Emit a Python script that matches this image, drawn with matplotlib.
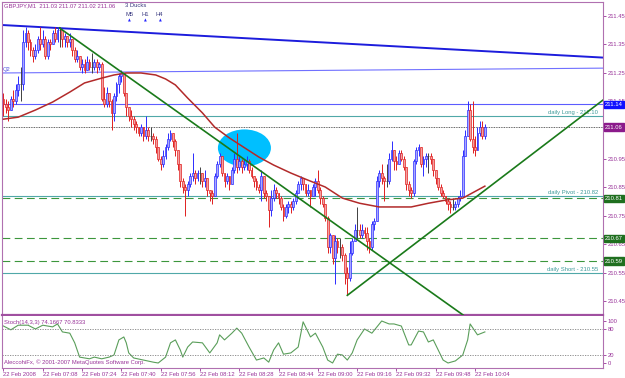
import numpy as np
import matplotlib.pyplot as plt
from matplotlib.patches import Ellipse
import matplotlib.transforms as mtransforms

plt.rcParams['font.family'] = ['Liberation Sans', 'DejaVu Sans']

# prices are kept in pips (0.01) above BASE
BASE = 210.00

first_open = 116
closes = [114, 113, 112, 116, 115, 119, 121, 121, 136, 139, 136, 133, 131, 133, 137, 135, 137, 131, 136, 135,
          139, 137, 140, 140, 137, 138, 136, 137, 133, 130, 131, 127, 128, 126, 129, 127, 127, 129, 127, 128,
          116, 114, 118, 115, 111, 117, 121, 124, 125, 118, 113, 110, 109, 107, 106, 104, 106, 103, 105, 103,
          103, 102, 99, 95, 93, 96, 99, 102, 104, 101, 98, 93, 87, 85, 84, 86, 89, 90, 88, 90,
          90, 87, 88, 84, 83, 82, 89, 93, 96, 90, 87, 89, 86, 91, 95, 92, 94, 92, 93, 94,
          91, 89, 87, 85, 84, 89, 83, 82, 77, 81, 84, 83, 81, 78, 75, 78, 79, 78, 80, 83,
          86, 88, 86, 83, 84, 82, 85, 87, 84, 81, 79, 74, 64, 68, 60, 66, 64, 64, 61, 55,
          53, 62, 66, 70, 70, 68, 70, 69, 66, 64, 72, 73, 87, 90, 88, 87, 87, 95, 98, 94,
          93, 97, 95, 92, 86, 84, 83, 94, 98, 99, 93, 95, 96, 96, 95, 91, 88, 85, 83, 82,
          80, 79, 78, 78, 79, 81, 82, 96, 103, 112, 102, 99, 98, 104, 106, 103, 106]
highs = [118, 116, 115, 117, 119, 121, 124, 127, 140, 141, 140, 137, 134, 135, 138, 141, 140, 138, 137, 137,
         140, 141, 141, 141, 139, 139, 138, 139, 136, 134, 133, 131, 130, 130, 131, 130, 132, 130, 130, 129,
         129, 120, 120, 118, 116, 118, 122, 125, 126, 125, 118, 113, 112, 110, 108, 106, 107, 106, 110, 106,
         106, 104, 103, 99, 96, 98, 100, 104, 105, 104, 102, 98, 93, 88, 86, 87, 90, 97, 91, 91,
         92, 90, 91, 86, 84, 84, 90, 94, 97, 95, 90, 90, 89, 92, 97, 104, 96, 95, 95, 96,
         95, 92, 89, 88, 86, 91, 88, 84, 82, 84, 86, 85, 83, 82, 79, 79, 80, 80, 81, 84,
         87, 89, 88, 86, 86, 84, 86, 88, 91, 85, 82, 79, 75, 69, 67, 68, 67, 67, 65, 62,
         57, 66, 67, 72, 78, 72, 72, 71, 71, 67, 73, 74, 89, 91, 93, 89, 93, 97, 101, 98,
         96, 98, 98, 96, 91, 87, 85, 95, 99, 100, 99, 96, 97, 97, 97, 95, 91, 88, 86, 84,
         82, 81, 80, 81, 80, 82, 84, 98, 105, 115, 114, 115, 103, 106, 108, 108, 107]
lows = [110, 111, 108, 112, 113, 114, 117, 115, 119, 134, 133, 131, 129, 130, 132, 133, 134, 130, 130, 133,
        135, 136, 136, 134, 134, 134, 134, 134, 131, 129, 129, 126, 125, 125, 126, 126, 125, 126, 125, 126,
        115, 113, 113, 113, 105, 108, 115, 118, 122, 117, 110, 108, 106, 105, 104, 103, 103, 101, 102, 101,
        101, 100, 97, 94, 91, 92, 95, 98, 101, 99, 96, 91, 85, 83, 75, 82, 85, 87, 86, 87,
        86, 85, 85, 82, 80, 79, 82, 88, 92, 89, 85, 86, 84, 86, 90, 90, 91, 90, 91, 91,
        90, 88, 85, 84, 83, 80, 81, 80, 71, 75, 80, 81, 79, 77, 73, 74, 76, 76, 77, 79,
        83, 84, 84, 82, 82, 78, 82, 82, 83, 79, 78, 73, 62, 62, 58, 51, 62, 60, 59, 51,
        47, 52, 61, 66, 67, 67, 67, 67, 63, 62, 63, 70, 73, 85, 86, 80, 85, 86, 94, 91,
        91, 93, 94, 91, 84, 82, 81, 82, 93, 96, 92, 89, 92, 90, 93, 89, 86, 84, 82, 81,
        79, 77, 76, 77, 77, 78, 80, 82, 96, 103, 101, 97, 96, 98, 103, 102, 102]

# 100-period moving average, read at a few bars (pips)
ma_bars = [0, 6, 13, 20, 27, 33, 40, 45, 50, 56, 62, 66, 70, 75, 81, 86, 92, 97, 104, 110, 117, 124,
           131, 138, 145, 153, 159, 166, 173, 180, 187, 193, 196]
ma_vals = [108.8, 109.5, 112, 114.8, 118.3, 121.5, 123.2, 124.3, 125, 125, 124.3, 122.9, 120.8, 116.2,
           111, 106, 102.2, 99.4, 95.5, 92.7, 89.9, 87.4, 85, 81.1, 79.3, 78, 78, 78, 79.3, 80.4, 81.1,
           83.9, 85.3]

# stochastic %K, read at a few bars
stoch_bars = [0, 3, 6, 10, 13, 16, 20, 22, 24, 27, 29, 31, 35, 37, 40, 43, 45, 47, 49, 50, 51, 53, 57,
              61, 63, 66, 68, 70, 72, 73, 75, 77, 81, 84, 87, 88, 90, 93, 95, 97, 100, 103, 106, 108,
              110, 112, 114, 117, 120, 122, 125, 127, 130, 132, 134, 136, 138, 140, 142, 144, 147, 150,
              154, 157, 159, 162, 165, 166, 169, 171, 173, 175, 177, 179, 181, 184, 187, 189, 190, 193, 196]
stoch_vals = [88, 79, 90, 90, 81, 90, 86, 93, 74, 71, 48, 14, 10, 14, 10, 14, 19, 55, 62, 48, 24, 12, 7,
              2, 0, 14, 48, 55, 31, 14, 38, 50, 48, 24, 48, 67, 55, 71, 83, 71, 38, 7, 12, 2,
              31, 48, 21, 24, 38, 98, 62, 71, 38, 7, 0, 21, 19, 7, 24, 55, 81, 71,
              100, 93, 93, 88, 43, 43, 76, 74, 50, 55, 31, 7, 0, 5, 19, 55, 93, 67, 74]

# chart objects (pips)
blue_channel = [(0, 141.8), (244.1, 130.4)]
q2_line = [(-0.6, 125.0), (244.1, 126.7)]
down_trend = [(22.8, 140.8), (187.3, 40.0)]
up_trend = [(140.0, 47.0), (244.1, 115.5)]
daily_levels = {'daily Long': 110, 'daily Pivot': 82, 'daily Short': 55}
dashed_levels = [81, 67, 59]
level_blue = 114
bid = 106

time_ticks = [0, 16, 32, 48, 64, 80, 96, 112, 128, 144, 160, 176, 192]
time_labels = ['22 Feb 2008', '22 Feb 07:08', '22 Feb 07:24', '22 Feb 07:40', '22 Feb 07:56',
               '22 Feb 08:12', '22 Feb 08:28', '22 Feb 08:44', '22 Feb 09:00', '22 Feb 09:16',
               '22 Feb 09:32', '22 Feb 09:48', '22 Feb 10:04']


def P(v):
    return BASE + np.asarray(v, dtype=float) / 100.0


W, H = 625, 378
PURPLE = '#993399'
FRAME = '#b070b0'


def rect(x0, y0, x1, y1):
    return [x0 / W, 1 - y1 / H, (x1 - x0) / W, (y1 - y0) / H]


fig = plt.figure(figsize=(W / 100, H / 100), dpi=100)
fig.patch.set_facecolor('white')
ax = fig.add_axes(rect(2, 2, 603, 315))
ax2 = fig.add_axes(rect(2, 316, 603, 368))

xmin, xmax = -0.6, 244.1
ax.set_xlim(xmin, xmax)
ax.set_ylim(P(40.1), P(149.9))

c = P(closes)
o = np.r_[P(first_open), c[:-1]]
h = np.maximum(P(highs), np.maximum(o, c))
l = np.minimum(P(lows), np.minimum(o, c))
x = np.arange(len(c))

# highlight ellipse
ax.add_patch(Ellipse((98.1, P(98.7)), 21.6, 0.13, color='#00bfff', zorder=1.5, lw=0))

# horizontal levels
for name, v in daily_levels.items():
    ax.axhline(P(v), color='#50a8a8', lw=0.8, zorder=2)
    ax.text(0.992, P(v) + 0.003, f'{name} - {P(v):.2f}', transform=mtransforms.blended_transform_factory(ax.transAxes, ax.transData),
            ha='right', va='bottom', fontsize=4.2, color='#3d9a9a')
for v in dashed_levels:
    ax.axhline(P(v), color='#3c963c', lw=0.8, ls=(0, (7, 4)), zorder=2)
ax.axhline(P(level_blue), color='#5c5cff', lw=0.8, zorder=2)
ax.axhline(P(bid), color='#303030', lw=0.6, ls=(0, (1, 1)), zorder=2)
ax.plot([p[0] for p in q2_line], P([p[1] for p in q2_line]), color='#7070ff', lw=0.8, zorder=2)
ax.text(0.002, P(125.4), 'Q2', transform=mtransforms.blended_transform_factory(ax.transAxes, ax.transData),
        ha='left', va='bottom', fontsize=4.2, color='#5050e0')
ax.plot([p[0] for p in blue_channel], P([p[1] for p in blue_channel]), color='#1c1cdc', lw=1.4, zorder=2)

# moving average and trend lines
ax.plot(ma_bars, P(ma_vals), color='#b22a2a', lw=1.1, zorder=4)
ax.plot([p[0] for p in down_trend], P([p[1] for p in down_trend]), color='#1a7a1a', lw=1.2, zorder=4)
ax.plot([p[0] for p in up_trend], P([p[1] for p in up_trend]), color='#1a7a1a', lw=1.2, zorder=4)

# candles
up = c > o
dn = c < o
dj = c == o
edge = np.where(up, '#2b2bff', np.where(dn, '#e02020', '#404040'))
fill = np.where(up, '#a8a8ff', np.where(dn, '#f4a0a0', '#404040'))
ax.vlines(x, l, h, colors=edge, lw=0.7, zorder=3)
body = np.maximum(np.abs(c - o), 0.0004)
ax.bar(x, body, bottom=np.minimum(o, c), width=0.75, color=fill, edgecolor=edge, lw=0.5, zorder=3.2)

# price axis
ax.yaxis.tick_right()
yt = np.arange(45, 150, 10)
ax.set_yticks(P(yt))
ax.set_yticklabels([f'{v:.2f}' for v in P(yt)])
ax.tick_params(axis='y', colors=PURPLE, labelsize=4.2, length=2, width=0.6, pad=1.5)
ax.set_xticks([])
for s in ax.spines.values():
    s.set_color(FRAME)
    s.set_linewidth(0.8)
ax.spines['bottom'].set_linewidth(1.6)
ax.spines['bottom'].set_color('#a050a0')

tr = mtransforms.blended_transform_factory(ax.transAxes, ax.transData)
boxes = [(level_blue, '#1010ff'), (bid, '#8b1a8b'), (81, '#1f6f1f'), (67, '#1f6f1f'), (59, '#1f6f1f')]
for v, col in boxes:
    ax.text(1.003, P(v), f'{P(v):.2f}', transform=tr, ha='left', va='center', fontsize=4.2,
            color='white', bbox=dict(boxstyle='square,pad=0.2', fc=col, ec=col), zorder=10, clip_on=False)

# header texts
fig.text(4 / W, 1 - 5.5 / H, 'GBPJPY,M1  211.03 211.07 211.02 211.06', fontsize=4.2, color=PURPLE, va='center')
fig.text(125 / W, 1 - 5.5 / H, '3 Ducks', fontsize=4.2, color='#3a3a80', va='center')
for xx, t in [(125, 'M5'), (141, 'H1'), (156, 'H4')]:
    fig.text(xx / W, 1 - 15 / H, t, fontsize=4.2, color='#3a3a80', va='center')
    fig.text((xx + 2.5) / W, 1 - 21 / H, '▲', fontsize=2.6, color='#2020ff', va='center', family='DejaVu Sans')

# stochastic panel
ax2.set_xlim(xmin, xmax)
ax2.set_ylim(-11.9, 111.9)
ax2.plot(stoch_bars, stoch_vals, color='#5a9e5a', lw=0.8)
for lv in (80, 20):
    ax2.axhline(lv, color='#808080', lw=0.6, ls=(0, (1.5, 1.5)))
ax2.yaxis.tick_right()
ax2.set_yticks([0, 20, 80, 100])
ax2.set_yticklabels(['0', '20', '80', '100'])
ax2.tick_params(axis='y', colors=PURPLE, labelsize=4.2, length=2, width=0.6, pad=1.5)
ax2.set_xticks(time_ticks)
ax2.set_xticklabels(time_labels, ha='left')
ax2.tick_params(axis='x', colors=PURPLE, labelsize=4.2, length=2, width=0.6, pad=1)
for s in ax2.spines.values():
    s.set_color(FRAME)
    s.set_linewidth(0.8)
ax2.spines['top'].set_visible(False)
ax2.text(0.004, 0.93, 'Stoch(14,3,3) 74.1667 70.8333', transform=ax2.transAxes, fontsize=4.2,
         color=PURPLE, va='top')
ax2.text(0.004, 0.05, 'AleccohiFx, © 2001-2007 MetaQuotes Software Corp.', transform=ax2.transAxes,
         fontsize=4.2, color=PURPLE, va='bottom')

fig.savefig('out.png', dpi=100)
